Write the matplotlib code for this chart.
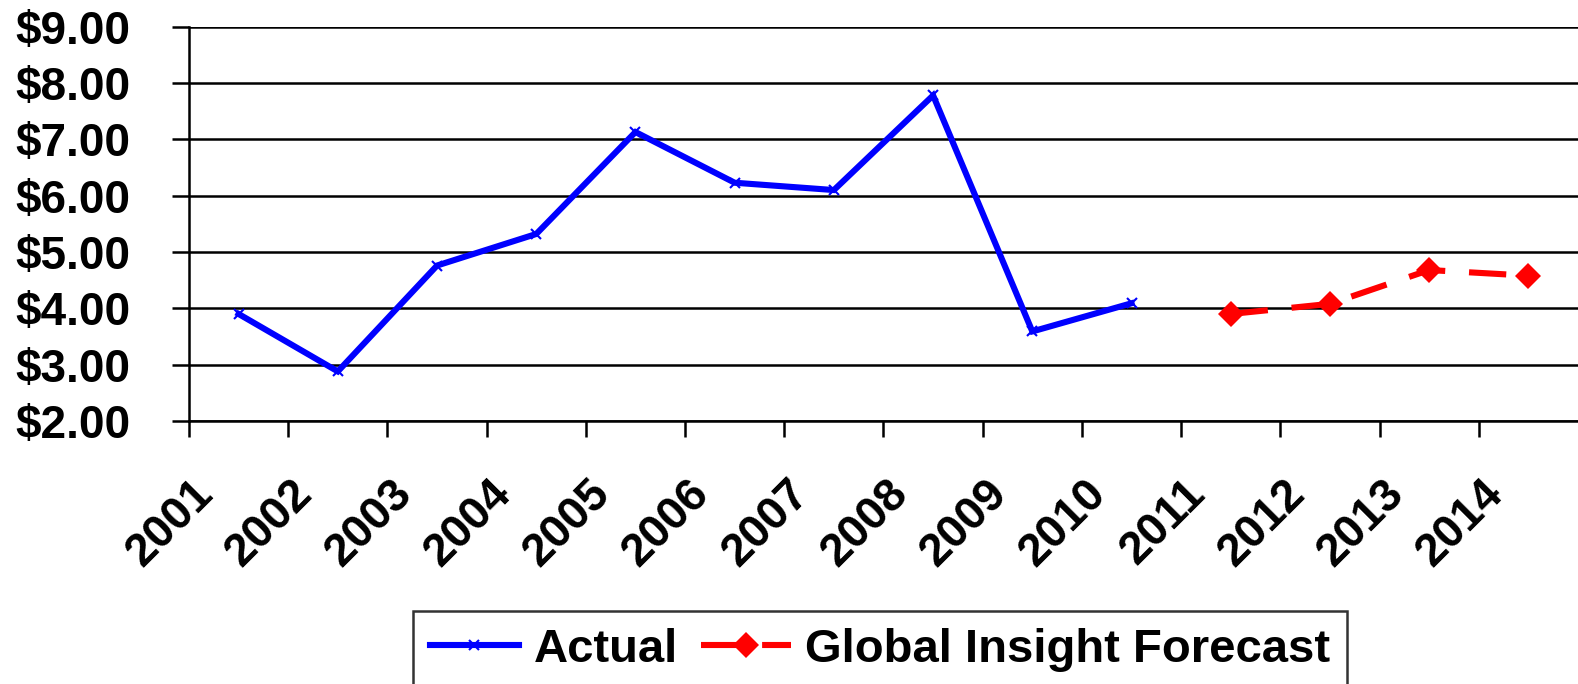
import matplotlib
matplotlib.use("Agg")
import matplotlib.pyplot as plt
from matplotlib.transforms import ScaledTranslation, blended_transform_factory

years = ["2001", "2002", "2003", "2004", "2005", "2006", "2007",
         "2008", "2009", "2010", "2011", "2012", "2013", "2014"]
actual = [3.90, 2.88, 4.76, 5.32, 7.13, 6.23, 6.10, 7.78, 3.59, 4.09]
forecast = [3.90, 4.08, 4.68, 4.58]
yticks = [2, 3, 4, 5, 6, 7, 8, 9]
ytick_labels = ["$2.00", "$3.00", "$4.00", "$5.00", "$6.00", "$7.00", "$8.00", "$9.00"]

plt.rcParams['font.family'] = ['Liberation Sans', 'DejaVu Sans']
plt.rcParams['font.weight'] = 'bold'

fig = plt.figure(figsize=(15.78, 6.84), dpi=100)
ax = fig.add_axes([189/1578, 1-421/684, 1-189/1578, (421-26.7)/684])

x_act = list(range(1, len(actual) + 1))
x_fc = list(range(len(actual) + 1, len(actual) + len(forecast) + 1))

ax.plot(x_act, actual, color='#0000ff', lw=4.4, marker='x', ms=7, mew=1.5,
        label='Actual', zorder=3, solid_joinstyle='miter')
ax.plot(x_fc, forecast, color='#ff0000', lw=4.4, ls=(0, (6.1, 3.9)), marker='D',
        ms=13, mew=0, label='Global Insight Forecast', zorder=3)

ax.set_xlim(0.5, len(years) + 0.5)
ax.set_ylim(2, 9)
ax.set_yticks(yticks)
ax.set_yticklabels(ytick_labels)
ax.yaxis.grid(True, color='black', lw=1.8)
ax.set_axisbelow(True)
ax.tick_params(axis='y', length=12, width=1.8, direction='out', pad=30,
               labelsize=33)
for lab in ax.get_yticklabels():
    lab.set_fontweight('bold')

ax.set_xticks([i + 0.5 for i in range(len(years))])
ax.set_xticklabels([])
ax.tick_params(axis='x', length=11.5, width=1.8, direction='out')

for s in ['top', 'right']:
    ax.spines[s].set_visible(False)
for s in ['left', 'bottom']:
    ax.spines[s].set_linewidth(1.8)

trans = blended_transform_factory(ax.transData, ax.transAxes) + \
    ScaledTranslation(-32/100, -66/100, fig.dpi_scale_trans)
for i, y in enumerate(years):
    ax.text(i + 1, 0, y, transform=trans, rotation=45, rotation_mode='anchor',
            ha='right', va='center', fontsize=33, fontweight='bold')

leg = fig.legend(loc='upper center', bbox_to_anchor=(880/1578, 1-611/684),
                 ncol=2, fontsize=34, frameon=True, fancybox=False,
                 edgecolor='black', handlelength=1.9, handletextpad=0.3,
                 columnspacing=0.5, borderpad=0.35, borderaxespad=0)
leg.get_frame().set_linewidth(1.8)
for t in leg.get_texts():
    t.set_fontweight('bold')

fig.savefig('out.png', dpi=100)
